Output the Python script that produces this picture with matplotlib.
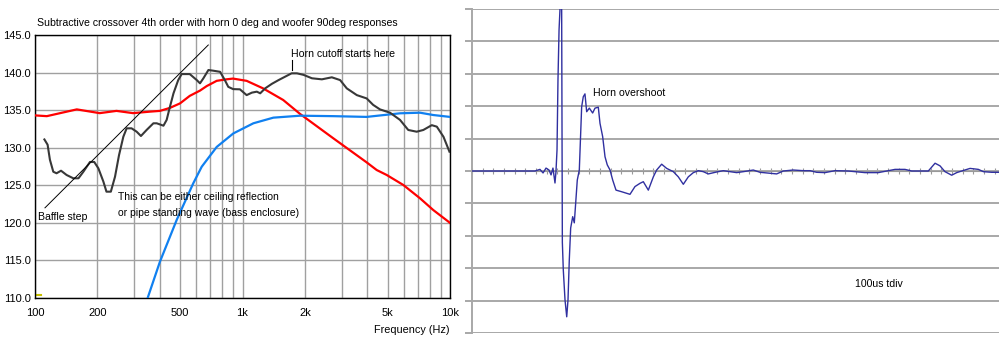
import matplotlib
matplotlib.use("Agg")
import matplotlib.pyplot as plt
from matplotlib.ticker import FixedLocator, NullFormatter
import numpy as np

plt.rcParams['font.family'] = ['Liberation Sans', 'DejaVu Sans']

# ---------------- Left chart data (frequency response) ----------------
title_left = "Subtractive crossover 4th order with horn 0 deg and woofer 90deg responses"
xtick_vals = [100, 200, 500, 1000, 2000, 5000, 10000]
xtick_labels = ["100", "200", "500", "1k", "2k", "5k", "10k"]
ytick_vals = [110, 115, 120, 125, 130, 135, 140, 145]

red_f = [100, 114, 159, 205, 247, 297, 358, 400, 447, 500, 557, 624, 672, 751, 837, 900,
         1047, 1256, 1571, 1893, 2740, 3966, 4434, 4955, 5957, 7168, 8310, 10000]
red_db = [134.3, 134.2, 135.1, 134.6, 134.9, 134.6, 134.8, 134.9, 135.3, 135.9, 136.9, 137.6,
          138.2, 138.9, 139.1, 139.2, 138.9, 137.9, 136.35, 134.5, 131.25, 128.05, 127.03,
          126.37, 125.04, 123.27, 121.7, 120.0]

blue_f = [349, 400, 482, 579, 636, 751, 903, 1128, 1408, 1893, 2740, 3966, 5743, 7168, 8310, 10000]
blue_db = [110, 114.83, 120.4, 125.26, 127.47, 130.1, 131.9, 133.25, 134.0, 134.26, 134.2, 134.1,
           134.58, 134.66, 134.35, 134.1]

black_f = [111, 115, 118, 122.5, 127, 133.5, 142, 153, 162, 171, 184, 193, 202, 213.5, 221, 232,
           243, 254, 266.5, 276.5, 292, 309, 324, 345, 372, 386, 416, 431, 447, 465, 490, 509,
           557, 602, 624, 648, 685, 723, 780, 822, 854, 901, 972, 1047, 1110, 1172, 1217, 1286,
           1385, 1492, 1604, 1724, 1830, 1966, 2161, 2413, 2694, 2955, 3180, 3556, 3966, 4262,
           4597, 5140, 5743, 6293, 6908, 7436, 8170, 8640, 9300, 9940]
black_db = [131.1, 130.4, 128.4, 126.8, 126.6, 126.94, 126.37, 125.93, 125.93, 126.8, 128.1,
            128.1, 127.26, 125.5, 124.15, 124.15, 126.14, 129.0, 131.46, 132.58, 132.58, 132.13,
            131.56, 132.36, 133.25, 133.25, 132.93, 133.7, 135.45, 137.24, 139.0, 139.8, 139.8,
            139.0, 138.57, 139.24, 140.34, 140.25, 140.1, 139.0, 138.1, 137.8, 137.77, 137.0,
            137.33, 137.46, 137.24, 137.9, 138.5, 139.0, 139.45, 139.9, 139.9, 139.7, 139.24,
            139.1, 139.37, 139.0, 137.9, 137.0, 136.56, 135.7, 135.1, 134.66, 133.7, 132.36,
            132.13, 132.36, 133.0, 132.8, 131.46, 129.47]

baffle_f = [111.7, 684]
baffle_db = [122.0, 143.67]

# ---------------- Right chart data (impulse response) ----------------
imp_t = [0, 5.91, 6.37, 6.66, 6.94, 7.22, 7.41, 7.59, 7.78, 7.87, 7.97, 8.06, 8.16, 8.25, 8.34,
         8.40, 8.47, 8.56, 8.72, 8.88, 9.0, 9.12, 9.25, 9.44, 9.59, 9.72, 9.87, 10.06, 10.28,
         10.43, 10.59, 10.75, 11.0, 11.31, 11.53, 11.84, 12.0, 12.25, 12.47, 12.68, 12.94, 13.19,
         13.5, 14.03, 14.81, 15.28, 15.75, 16.06, 16.53, 17.0, 17.31, 17.78, 18.25, 18.87, 19.34,
         19.81, 20.28, 20.75, 21.22, 21.68, 22.15, 22.94, 23.56, 24.19, 24.81, 25.44, 26.37, 27.0,
         27.94, 28.56, 29.18, 30.12, 31.06, 31.69, 32.31, 33.09, 34.03, 35.28, 36.84, 38.09,
         39.66, 40.59, 41.22, 42.78, 43.41, 43.87, 44.34, 44.97, 45.44, 45.91, 46.69, 47.47,
         47.94, 48.72, 49.34]
imp_v = [0, 0, 0.05, -0.06, 0.09, 0.03, -0.12, 0.09, -0.37, -0.03, 0.65, 2.81, 4.35, 5.0, 5.6,
         5.6, -2.2, -3.06, -3.98, -4.5, -3.98, -2.75, -1.76, -1.41, -1.6, -0.99, -0.28, 0.03,
         1.98, 2.29, 2.38, 1.83, 1.94, 1.79, 1.94, 1.97, 1.47, 1.06, 0.44, 0.19, 0.03, -0.28,
         -0.59, -0.64, -0.72, -0.48, -0.38, -0.33, -0.59, -0.18, 0.03, 0.21, 0.08, -0.02, -0.18,
         -0.41, -0.18, -0.05, 0.01, -0.02, -0.09, -0.03, 0.01, -0.02, -0.05, -0.02, 0.03, -0.04,
         -0.07, -0.09, 0.0, 0.03, 0.01, 0.01, -0.04, -0.05, 0.01, 0.0, -0.05, -0.05, 0.05, 0.05,
         0.0, 0.0, 0.24, 0.16, -0.02, -0.13, -0.05, 0.0, 0.08, 0.05, -0.02, -0.04, -0.04]

W, H = 999, 340
fig = plt.figure(figsize=(W / 100, H / 100), dpi=100)
fig.patch.set_facecolor('white')

def rect(l, t, r, b):
    return [l / W, 1 - b / H, (r - l) / W, (b - t) / H]

# ---------------- Left axes ----------------
ax = fig.add_axes(rect(35, 35, 450, 298))
ax.set_xscale('log')
ax.set_xlim(100, 10000)
ax.set_ylim(110, 145)
grid_f = [100, 200, 300, 400, 500, 600, 700, 800, 900, 1000, 2000, 3000, 4000, 5000,
          6000, 7000, 8000, 9000, 10000]
ax.xaxis.set_major_locator(FixedLocator(xtick_vals))
ax.set_xticklabels(xtick_labels)
ax.xaxis.set_minor_locator(FixedLocator(grid_f))
ax.xaxis.set_minor_formatter(NullFormatter())
ax.set_yticks(ytick_vals)
ax.set_yticklabels([f"{v:.1f}" for v in ytick_vals])
ax.grid(True, which='both', axis='x', color='#a0a0a0', lw=1.0)
ax.grid(True, which='major', axis='y', color='#a0a0a0', lw=1.0)
ax.tick_params(which='both', length=0)
ax.tick_params(axis='x', pad=7, labelsize=8)
ax.tick_params(axis='y', pad=3, labelsize=8)
for s in ax.spines.values():
    s.set_color('black')
    s.set_linewidth(1.0)
ax.set_axisbelow(True)

ax.plot(red_f, red_db, color='#ff0000', lw=1.6, zorder=3)
ax.plot(blue_f, blue_db, color='#1080f0', lw=1.6, zorder=3)
ax.plot(black_f, black_db, color='#383838', lw=1.5, zorder=4)
ax.plot(baffle_f, baffle_db, color='black', lw=0.7, zorder=5, clip_on=False)
ax.plot([0, 0.015], [0.012, 0.012], transform=ax.transAxes, color='#c8c000', lw=1.5)

ax.text(0.006, 1.0 + 12 / 263, title_left, transform=ax.transAxes, fontsize=7.6,
        ha='left', va='center')
ax.text(1.0, -32 / 263, "Frequency (Hz)", transform=ax.transAxes, fontsize=7.8,
        ha='right', va='center')
ax.text(103, 120.82, "Baffle step", fontsize=7.6, ha='left', va='center')
ax.text(251, 122.38, "This can be either ceiling reflection\nor pipe standing wave (bass enclosure)",
        fontsize=7.5, ha='left', va='center', linespacing=1.65)
ax.text(1705, 142.43, "Horn cutoff starts here", fontsize=7.6, ha='left', va='center')
ax.plot([1724, 1724], [140.34, 141.67], color='black', lw=0.8)

# ---------------- Right axes ----------------
ax2 = fig.add_axes(rect(472, 9, 999, 333))
ax2.set_xlim(0, (999 - 472) / 10.667)
ax2.set_ylim(-5, 5)
ax2.set_yticks(np.arange(-5, 6, 1))
ax2.set_yticklabels([])
ax2.set_xticks(np.arange(0, 50, 1))
ax2.set_xticklabels([])
ax2.grid(True, axis='y', color='#a8a8a8', lw=1.4)
ax2.tick_params(axis='y', length=5, color='#a8a8a8', width=1.4)
ax2.tick_params(axis='x', direction='inout', length=5, color='#999999', width=0.8)
for k in ['top', 'right']:
    ax2.spines[k].set_visible(False)
ax2.spines['bottom'].set_position(('data', 0))
ax2.spines['bottom'].set_color('#999999')
ax2.spines['left'].set_color('#a8a8a8')
ax2.spines['left'].set_linewidth(1.4)
ax2.set_axisbelow(True)
ax2.plot(imp_t, imp_v, color='#3030a0', lw=1.0, zorder=3)
ax2.text(11.3, 2.4, "Horn overshoot", fontsize=7.6, ha='left', va='center')
ax2.text(35.9, -3.5, "100us tdiv", fontsize=7.6, ha='left', va='center')

fig.savefig("out.png", dpi=100)
